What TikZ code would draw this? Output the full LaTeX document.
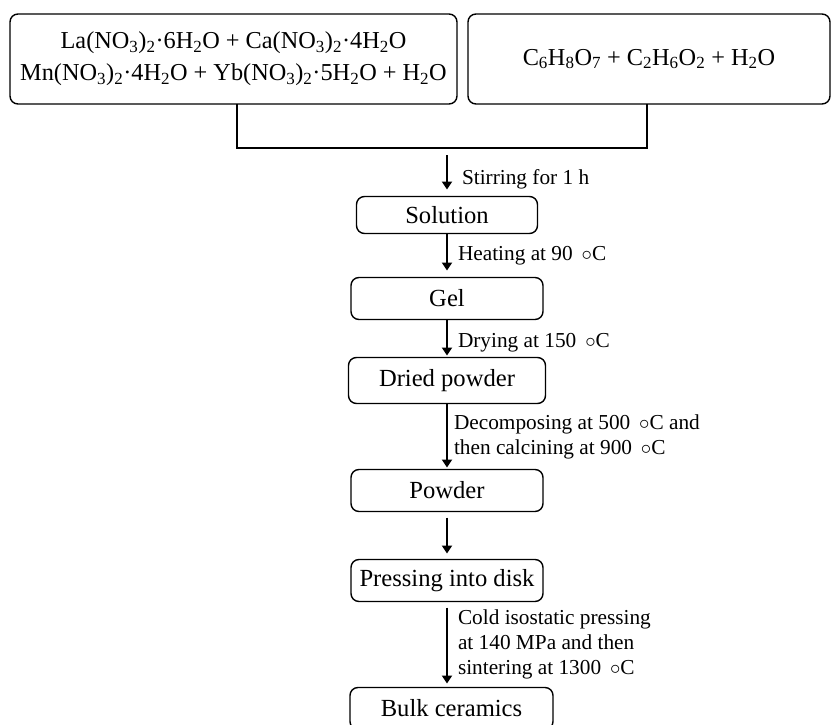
\documentclass[tikz,border=0pt]{standalone}
\usepackage{fontspec}
\setmainfont{Liberation Serif}
\usetikzlibrary{arrows.meta, positioning}

\newcommand{\ssub}[1]{\textsubscript{#1}}
\newcommand{\degc}{\hspace{0.42em}$\circ$C}

\tikzset{
    stepbox/.style={draw, line width=1.4pt, rounded corners=8pt, inner sep=2pt, outer sep=0pt,
        minimum width=192pt, minimum height=42pt,
        font=\fontsize{24.6}{29}\selectfont},
    lbl/.style={font=\fontsize{21.3}{25}\selectfont, align=left, inner sep=2pt},
    flow/.style={line width=2pt, -{Triangle[length=8pt, width=10pt]}},
}

\begin{document}
\begin{tikzpicture}[x=1pt, y=-1pt]
        \useasboundingbox (0,0) rectangle (831,725);
        % starting solutions
        \node[stepbox, minimum width=447pt, minimum height=90pt, align=center,
            font=\fontsize{24.3}{32}\selectfont] (nitrates) at (233.5,59)
            {La(NO\ssub{3})\ssub{2}·6H\ssub{2}O + Ca(NO\ssub{3})\ssub{2}·4H\ssub{2}O\\
             Mn(NO\ssub{3})\ssub{2}·4H\ssub{2}O + Yb(NO\ssub{3})\ssub{2}·5H\ssub{2}O + H\ssub{2}O};
        \node[stepbox, minimum width=362pt, minimum height=90pt, font=\fontsize{24.3}{32}\selectfont]
            (acid) at (649,59)
            {C\ssub{6}H\ssub{8}O\ssub{7} + C\ssub{2}H\ssub{6}O\ssub{2} + H\ssub{2}O};
        \coordinate (joinl) at (237,148);
        \coordinate (joinr) at (647,148);
        \draw[line width=2pt] (joinl |- nitrates.south) -- (joinl) -- (joinr) -- (joinr |- acid.south);
        \coordinate (mix) at (447,155);
        % process chain
        \node[stepbox, minimum width=181pt, minimum height=37pt] (solution) at (447,215) {Solution};
        \node[stepbox, below=44pt of solution] (gel) {Gel};
        \node[stepbox, minimum width=197pt, minimum height=46pt, below=38pt of gel] (dried) {Dried powder};
        \node[stepbox, below=66pt of dried] (powder) {Powder};
        \node[stepbox, below=48pt of powder] (pressing) {Pressing into disk};
        \node[stepbox, minimum width=203pt, minimum height=42pt, below=86pt of pressing, xshift=4.5pt] (bulk) {Bulk ceramics};
        % arrows
        \draw[flow, shorten >=7pt] (mix) -- (solution.north)
            node[lbl, midway, right=12pt, yshift=-4pt] {Stirring for 1 h};
        \draw[flow, shorten >=7pt] (solution) -- (gel)
            node[lbl, midway, right=8pt] {Heating at 90\degc};
        \draw[flow, shorten >=2pt] (gel) -- (dried)
            node[lbl, midway, right=8pt, yshift=-4pt] {Drying at 150\degc};
        \draw[flow, shorten >=2pt] (dried) -- (powder)
            node[lbl, midway, right=4pt] {Decomposing at 500\degc{} and\\then calcining at 900\degc};
        \draw[flow, shorten <=6pt, shorten >=6pt] (powder) -- (pressing);
        \draw[flow, shorten <=6pt, shorten >=4pt] (pressing.south) -- (pressing.south |- bulk.north)
            node[lbl, midway, right=8pt] {Cold isostatic pressing\\at 140 MPa and then\\sintering at 1300\degc};
    \end{tikzpicture}
\end{document}
